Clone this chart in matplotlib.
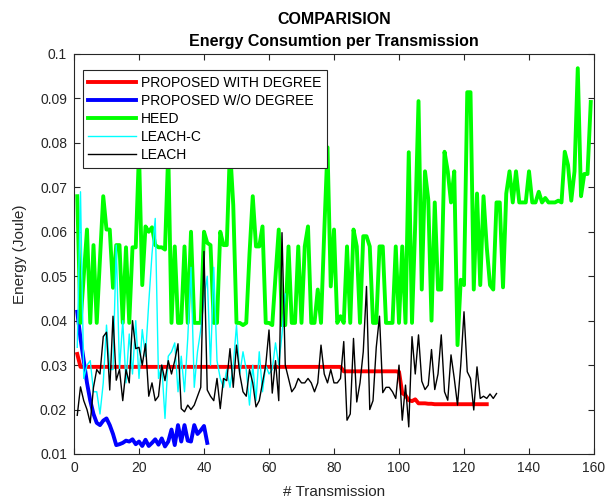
import numpy as np
import matplotlib
matplotlib.use('Agg')
import matplotlib.pyplot as plt

plt.rcParams['font.family'] = ['Liberation Sans', 'DejaVu Sans']

# Energy per transmission round (Joule), one entry per round starting at 1
proposed_deg = [
    0.0325, 0.0296, 0.0296, 0.0296, 0.0296, 0.0296, 0.0296, 0.0296, 0.0296, 0.0296,
    0.0296, 0.0296, 0.0296, 0.0296, 0.0296, 0.0296, 0.0296, 0.0296, 0.0296, 0.0296,
    0.0296, 0.0296, 0.0296, 0.0296, 0.0296, 0.0296, 0.0296, 0.0296, 0.0296, 0.0296,
    0.0296, 0.0296, 0.0296, 0.0296, 0.0296, 0.0296, 0.0296, 0.0296, 0.0296, 0.0296,
    0.0296, 0.0296, 0.0296, 0.0296, 0.0296, 0.0296, 0.0296, 0.0296, 0.0296, 0.0296,
    0.0296, 0.0296, 0.0296, 0.0296, 0.0296, 0.0296, 0.0296, 0.0296, 0.0296, 0.0296,
    0.0296, 0.0296, 0.0296, 0.0296, 0.0296, 0.0296, 0.0296, 0.0296, 0.0296, 0.0296,
    0.0296, 0.0296, 0.0296, 0.0296, 0.0296, 0.0296, 0.0296, 0.0296, 0.0296, 0.0296,
    0.0296, 0.0296, 0.0286, 0.0286, 0.0286, 0.0286, 0.0286, 0.0286, 0.0286, 0.0286,
    0.0286, 0.0286, 0.0286, 0.0286, 0.0286, 0.0286, 0.0286, 0.0286, 0.0286, 0.0285,
    0.0237, 0.0232, 0.0221, 0.0219, 0.0223, 0.0214, 0.0214, 0.0214, 0.0213, 0.0213,
    0.0212, 0.0212, 0.0212, 0.0212, 0.0212, 0.0212, 0.0212, 0.0212, 0.0212, 0.0212,
    0.0212, 0.0212, 0.0212, 0.0212, 0.0212, 0.0212, 0.0212,
]

proposed_nodeg = [
    0.042, 0.036, 0.031, 0.026, 0.022, 0.019, 0.017, 0.0165, 0.0175, 0.018,
    0.0165, 0.0145, 0.012, 0.0122, 0.0125, 0.013, 0.0128, 0.0133, 0.0122, 0.0128,
    0.0118, 0.0132, 0.0118, 0.0125, 0.0133, 0.0121, 0.0135, 0.0117, 0.0128, 0.0155,
    0.012, 0.0165, 0.0128, 0.0165, 0.013, 0.0128, 0.0165, 0.0145, 0.0153, 0.0163,
    0.0125,
]

heed = [
    0.068, 0.0395, 0.050, 0.0605, 0.0395, 0.057, 0.0395, 0.054, 0.068, 0.0605,
    0.0605, 0.0474, 0.057, 0.057, 0.0395, 0.0565, 0.0395, 0.0565, 0.0565, 0.078,
    0.048, 0.0612, 0.060, 0.061, 0.057, 0.0565, 0.0565, 0.056, 0.078, 0.0395,
    0.0567, 0.0395, 0.0395, 0.0567, 0.0395, 0.060, 0.0395, 0.0395, 0.0395, 0.060,
    0.0575, 0.057, 0.0395, 0.0395, 0.060, 0.057, 0.057, 0.079, 0.066, 0.0395,
    0.0395, 0.039, 0.0395, 0.055, 0.068, 0.0567, 0.0567, 0.0612, 0.0395, 0.0395,
    0.039, 0.050, 0.0605, 0.039, 0.039, 0.0567, 0.0395, 0.0395, 0.0567, 0.0395,
    0.0567, 0.0612, 0.0395, 0.0395, 0.047, 0.0395, 0.060, 0.079, 0.0477, 0.0605,
    0.0395, 0.041, 0.0395, 0.0567, 0.0395, 0.0605, 0.0567, 0.0395, 0.059, 0.059,
    0.0567, 0.0395, 0.0395, 0.0567, 0.0567, 0.0395, 0.0395, 0.0395, 0.0567, 0.0395,
    0.0567, 0.0395, 0.0779, 0.0395, 0.062, 0.0894, 0.047, 0.0736, 0.0673, 0.040,
    0.0666, 0.047, 0.047, 0.078, 0.0736, 0.0666, 0.0736, 0.0345, 0.0492, 0.048,
    0.0914, 0.0914, 0.047, 0.0686, 0.048, 0.068, 0.0565, 0.048, 0.047, 0.0666,
    0.0666, 0.0475, 0.0686, 0.0736, 0.0666, 0.0736, 0.0666, 0.0666, 0.0666, 0.0736,
    0.0666, 0.0666, 0.069, 0.0666, 0.0676, 0.0666, 0.0666, 0.0666, 0.067, 0.0666,
    0.078, 0.075, 0.067, 0.0736, 0.0968, 0.068, 0.073, 0.073, 0.0892,
]

leach_c = [
    0.034, 0.069, 0.027, 0.030, 0.031, 0.024, 0.024, 0.019, 0.026, 0.039,
    0.029, 0.029, 0.057, 0.029, 0.040, 0.026, 0.037, 0.028, 0.040, 0.027,
    0.038, 0.032, 0.044, 0.055, 0.063, 0.027, 0.030, 0.018, 0.032, 0.033,
    0.035, 0.024, 0.032, 0.024, 0.036, 0.052, 0.025, 0.033, 0.038, 0.045,
    0.050, 0.030, 0.052, 0.031, 0.027, 0.025, 0.029, 0.025, 0.030, 0.039,
    0.028, 0.033, 0.029, 0.021, 0.030, 0.022, 0.033, 0.024, 0.030, 0.028,
    0.029, 0.035, 0.030, 0.037, 0.046,
]

leach = [
    0.0187, 0.0251, 0.022, 0.020, 0.017, 0.025, 0.029, 0.028, 0.0364, 0.0374,
    0.0244, 0.041, 0.0266, 0.029, 0.022, 0.029, 0.026, 0.040, 0.0337, 0.034,
    0.030, 0.0348, 0.023, 0.026, 0.022, 0.023, 0.030, 0.0265, 0.031, 0.028,
    0.031, 0.0348, 0.0202, 0.0195, 0.021, 0.020, 0.021, 0.023, 0.025, 0.0556,
    0.0244, 0.023, 0.022, 0.027, 0.0202, 0.027, 0.0265, 0.0337, 0.025, 0.0345,
    0.028, 0.024, 0.023, 0.029, 0.026, 0.0206, 0.022, 0.026, 0.030, 0.0379,
    0.0237, 0.031, 0.022, 0.0598, 0.030, 0.027, 0.024, 0.025, 0.027, 0.026,
    0.026, 0.027, 0.026, 0.024, 0.026, 0.0345, 0.028, 0.026, 0.029, 0.026,
    0.026, 0.027, 0.0353, 0.0176, 0.019, 0.036, 0.0217, 0.026, 0.033, 0.0477,
    0.020, 0.022, 0.034, 0.041, 0.0238, 0.025, 0.025, 0.024, 0.0225, 0.030,
    0.0176, 0.0255, 0.0161, 0.0364, 0.028, 0.0368, 0.0264, 0.0245, 0.0255, 0.0335,
    0.0245, 0.028, 0.0368, 0.024, 0.0221, 0.0323, 0.027, 0.021, 0.030, 0.042,
    0.0285, 0.027, 0.0199, 0.0296, 0.0225, 0.023, 0.0225, 0.0235, 0.0225, 0.0236,
]

series = [
    ('PROPOSED WITH DEGREE', proposed_deg, (1, 0, 0), 2.8),
    ('PROPOSED W/O DEGREE', proposed_nodeg, (0, 0, 1), 2.8),
    ('HEED', heed, (0, 1, 0), 2.8),
    ('LEACH-C', leach_c, (0, 1, 1), 1.0),
    ('LEACH', leach, (0, 0, 0), 1.0),
]

fig = plt.figure(figsize=(6.08, 4.99), dpi=100)
ax = fig.add_axes([0.1217, 0.0902, 0.8553, 0.8016])

for name, vals, col, lw in series:
    rounds = np.arange(1, len(vals) + 1)
    ax.plot(rounds, vals, color=col, lw=lw, label=name)

ax.set_xlim(0, 160)
ax.set_ylim(0.01, 0.1)
ax.set_xticks(np.arange(0, 161, 20))
ax.set_yticks(np.arange(0.01, 0.1001, 0.01))
ax.set_yticklabels(['0.01', '0.02', '0.03', '0.04', '0.05',
                    '0.06', '0.07', '0.08', '0.09', '0.1'])
ax.tick_params(direction='in', top=True, right=True, labelsize=10,
               length=4, color='0.15', labelcolor='0.15', pad=5)
for sp in ax.spines.values():
    sp.set_color('0.15')
    sp.set_linewidth(0.8)

ax.set_xlabel('# Transmission', fontsize=11, color='0.15', labelpad=7)
ax.set_ylabel('Energy (Joule)', fontsize=11, color='0.15', labelpad=9)
ax.set_title('COMPARISION\nEnergy Consumtion per Transmission',
             fontsize=11.5, fontweight='bold', pad=6, linespacing=1.55)

leg = ax.legend(loc='upper left', bbox_to_anchor=(0.017, 0.96),
                borderaxespad=0, fontsize=10, handlelength=3.4,
                labelspacing=0.3, fancybox=False, framealpha=1,
                edgecolor='0.15', borderpad=0.4, handletextpad=0.4)
leg.get_frame().set_linewidth(0.8)

fig.savefig('out.png', dpi=100)
